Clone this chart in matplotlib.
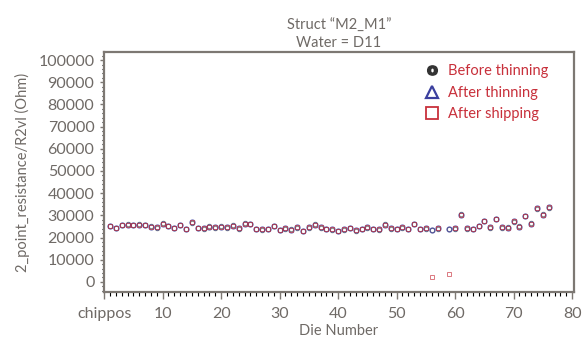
import numpy as np
import matplotlib.pyplot as plt
from matplotlib.lines import Line2D
from matplotlib.ticker import MultipleLocator

plt.rcParams['font.family'] = ['Lato', 'DejaVu Sans']

# die numbers and resistance values (Ohm)
dies = list(range(1, 58)) + list(range(59, 77))
before = [25000, 24500, 25500, 26000, 25500, 26000, 25500, 25000, 24500, 26500,
          25000, 24500, 25500, 24000, 26500, 24500, 24000, 25000, 24500, 25000,
          24500, 25500, 24000, 26500, 26000, 24000, 23500, 24000, 25000, 23500,
          24000, 23800, 24500, 23000, 24500, 26000, 24500, 24000, 23500, 23000,
          23500, 24500, 23000, 24000, 24500, 24000, 23500, 26000, 24000, 24000,
          24500, 24000, 26000, 24000, 24000, 23500, 24000,
          24000, 24000, 30500, 23900, 24000, 25000, 27500, 24500, 28500, 24500,
          24700, 27000, 25000, 29500, 26500, 32800, 30500, 33400]
after_thin = [v + d for v, d in zip(before, [300, -200] * 37 + [300])]
after_ship = list(after_thin)
after_ship[dies.index(56)] = 2300
after_ship[dies.index(59)] = 3600

grey = '#6f6a66'
frame = '#7d7873'
red = '#c8303b'
blue = '#3b3f9e'

fig = plt.figure(figsize=(5.85, 3.45), dpi=100)
ax = fig.add_axes([0.178, 0.154, 0.803, 0.695])

ax.plot(dies, before, 'o', ms=3.2, mfc='none', mec='#444444', mew=0.7, alpha=0.7)
ax.plot(dies, after_thin, 'o', ms=3.6, mfc='none', mec=blue, mew=0.9, alpha=0.75)
ax.plot(dies, after_ship, 's', ms=3.0, mfc='none', mec=red, mew=0.7, alpha=0.65)

ax.set_xlim(0, 80.3)
ax.set_ylim(-4500, 103600)
ax.xaxis.set_major_locator(MultipleLocator(10))
ax.xaxis.set_minor_locator(MultipleLocator(1))
ax.yaxis.set_major_locator(MultipleLocator(10000))
ax.yaxis.set_minor_locator(MultipleLocator(2000))
xt = np.arange(0, 81, 10)
ax.set_xticks(xt)
ax.set_xticklabels(['chippos'] + [str(v) for v in xt[1:]])

for s in ax.spines.values():
    s.set_color(frame)
    s.set_linewidth(1.6)
ax.tick_params(axis='both', colors=frame, labelcolor=grey, labelsize=11.5, direction='out')
ax.tick_params(axis='x', which='major', length=5, width=1, pad=6)
ax.tick_params(axis='x', which='minor', length=3, width=0.8)
ax.tick_params(axis='y', which='major', length=3, width=1, pad=4)
ax.tick_params(axis='y', which='minor', length=1.5, width=0.8)

ax.set_xlabel('Die Number', color=grey, fontsize=10.5, labelpad=2)
ax.set_ylabel('2_point_resistance/R2vl (Ohm)', color=grey, fontsize=10.5, labelpad=6)
ax.set_title('Struct \u201cM2_M1\u201d\nWater = D11', color=grey, fontsize=10.5,
             linespacing=1.25, pad=4)

handles = [Line2D([], [], ls='none', marker='$\\mathbf{o}$', ms=7, color='#333333'),
           Line2D([], [], ls='none', marker='^', ms=9, mfc='none', mec=blue, mew=1.6),
           Line2D([], [], ls='none', marker='s', ms=8, mfc='none', mec=red, mew=1.3)]
leg = ax.legend(handles, ['Before thinning', 'After thinning', 'After shipping'],
                loc='upper right', frameon=False, fontsize=10.5, handlelength=1,
                handletextpad=0.6, labelspacing=0.5, borderaxespad=0.2,
                bbox_to_anchor=(0.965, 0.985))
for t in leg.get_texts():
    t.set_color(red)

fig.savefig('out.png', dpi=100)
